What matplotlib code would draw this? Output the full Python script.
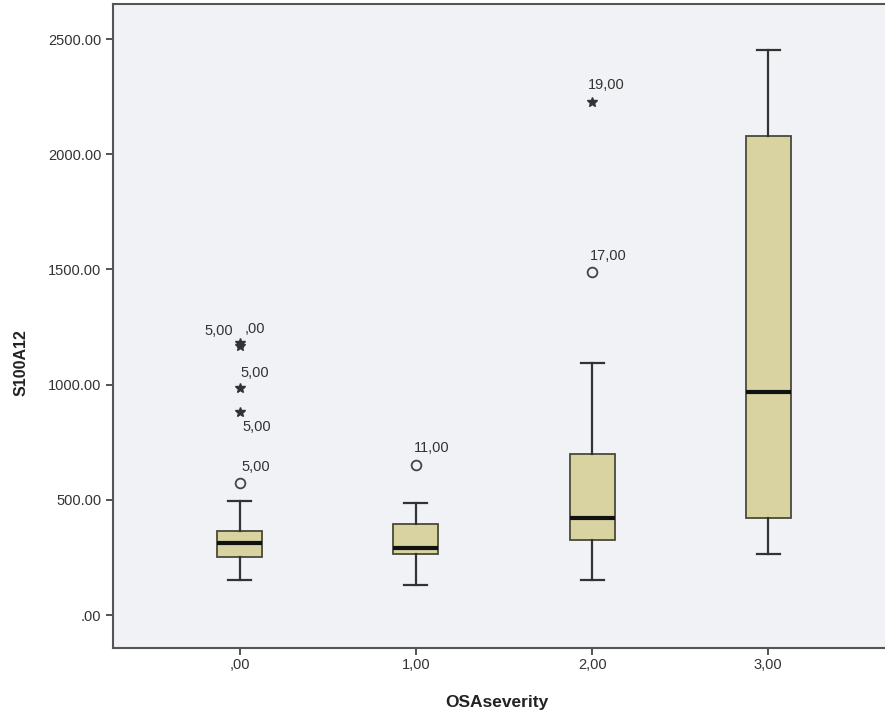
import matplotlib
matplotlib.use("Agg")
import matplotlib.pyplot as plt

# Box statistics per OSA severity group
positions = [0, 1, 2, 3]
x_labels = [',00', '1,00', '2,00', '3,00']
whis_lo = [152, 130, 152, 265]
q1 = [253, 265, 325, 420]
medians = [314, 291, 420, 966]
q3 = [366, 394, 697, 2079]
whis_hi = [495, 486, 1095, 2452]

# Outliers (circles) and extremes (stars) with their case labels
circ_x = [0, 1, 2]
circ_y = [574, 651, 1489]
circ_lab = ['5,00', '11,00', '17,00']
star_x = [0, 0, 0, 0, 2]
star_y = [882, 985, 1168, 1182, 2228]
star_lab = ['5,00', '5,00', '5,00', ',00', '19,00']

y_ticks = [0, 500, 1000, 1500, 2000, 2500]
y_tick_labels = ['.00', '500.00', '1000.00', '1500.00', '2000.00', '2500.00']

plt.rcParams['font.family'] = ['Liberation Sans', 'DejaVu Sans']

fig = plt.figure(figsize=(8.85, 7.21), dpi=100)
ax = fig.add_axes([113 / 885, 73 / 721, 782 / 885, 644 / 721])
ax.set_facecolor('#f1f2f5')

stats = []
for i in range(len(positions)):
    stats.append({'whislo': whis_lo[i], 'q1': q1[i], 'med': medians[i],
                  'q3': q3[i], 'whishi': whis_hi[i], 'fliers': []})

ax.bxp(stats, positions=positions, widths=0.256, showfliers=False,
       patch_artist=True,
       boxprops=dict(facecolor='#d8d3a0', edgecolor='#4a4a3a', linewidth=1.3),
       medianprops=dict(color='#111111', linewidth=3),
       whiskerprops=dict(color='#333333', linewidth=1.6),
       capprops=dict(color='#333333', linewidth=1.6),
       capwidths=0.13)

ax.plot(circ_x, circ_y, 'o', markersize=7, markerfacecolor='none',
        markeredgecolor='#444444', markeredgewidth=1.3, zorder=4)
ax.plot(star_x, star_y, '*', markersize=7, color='#333333', zorder=4)

# label offsets in pixels: (dx, dy, ha)
circ_off = [(2, 16, 'left'), (-2, 17, 'left'), (-2, 16, 'left')]
star_off = [(3, -15, 'left'), (1, 15, 'left'), (-7, 15, 'right'),
            (5, 14, 'left'), (-4, 17, 'left')]
for x, y, t, o in zip(circ_x, circ_y, circ_lab, circ_off):
    ax.annotate(t, (x, y), xytext=(o[0], o[1]), textcoords='offset pixels',
                ha=o[2], va='center', fontsize=10.5, color='#333333')
for x, y, t, o in zip(star_x, star_y, star_lab, star_off):
    ax.annotate(t, (x, y), xytext=(o[0], o[1]), textcoords='offset pixels',
                ha=o[2], va='center', fontsize=10.5, color='#333333')

ax.set_xlim(-0.72, 3.72)
ax.set_ylim(-143, 2652)
ax.set_xticks(positions)
ax.set_xticklabels(x_labels)
ax.set_yticks(y_ticks)
ax.set_yticklabels(y_tick_labels)
ax.tick_params(direction='out', length=5, width=1.3, color='#444444',
               labelcolor='#333333', labelsize=10.5)
ax.tick_params(axis='x', pad=2)

for s in ['left', 'bottom', 'top']:
    ax.spines[s].set_color('#555555')
    ax.spines[s].set_linewidth(1.5)
ax.spines['right'].set_visible(False)

ax.set_xlabel('OSAseverity', fontsize=12.5, fontweight='bold', color='#222222')
ax.set_ylabel('S100A12', fontsize=11.5, fontweight='bold', color='#222222')
ax.xaxis.set_label_coords(0.491, -0.073)
ax.yaxis.set_label_coords(-0.108, 0.444)

fig.savefig('out.png', dpi=100)
